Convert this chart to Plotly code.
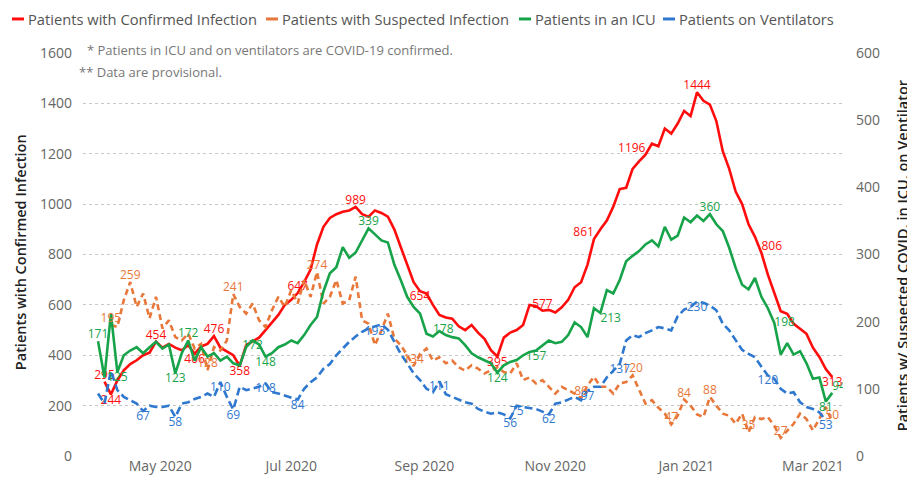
import pandas as pd
import plotly.graph_objects as go

# ---------------- data (sampled every 3 days starting 2020-04-02) ----------------
start_date = "2020-04-02"
n_points = 115
dates = pd.date_range(start_date, periods=n_points, freq="3D")

confirmed = [None, 295, 244, 300, 340, 365, 380, 400, 410, 454,
             430, 445, 430, 420, 440, 406, 435, 445, 476, 430,
             415, 400, 358, 440, 455, 470, 500, 530, 560, 600,
             620, 647, 690, 740, 840, 910, 945, 960, 970, 975,
             989, 960, 950, 975, 965, 950, 900, 830, 760, 690,
             654, 645, 600, 560, 550, 545, 515, 500, 520, 490,
             465, 420, 395, 470, 490, 500, 520, 600, 595, 577,
             580, 570, 590, 620, 670, 690, 760, 861, 900, 935,
             990, 1060, 1065, 1140, 1170, 1196, 1240, 1230, 1300, 1280,
             1320, 1370, 1350, 1444, 1410, 1395, 1330, 1210, 1140, 1050,
             1000, 920, 870, 806, 720, 650, 575, 565, 525, 505,
             485, 430, 393, 345, 313]

suspected = [None, None, 195, 192, 232, 259, 222, 242, 205, 237,
             190, 202, 177, 172, 182, 160, 167, 128, 162, 157,
             172, 241, 222, 212, 227, 202, 192, 217, 237, 222,
             247, 227, 262, 237, 274, 227, 237, 262, 227, 232,
             267, 202, 197, 165, 187, 212, 175, 165, 150, 134,
             152, 160, 142, 147, 138, 142, 132, 127, 135, 130,
             123, 127, 132, 125, 123, 138, 113, 117, 108, 113,
             103, 93, 103, 98, 93, 86, 105, 118, 103, 103,
             93, 108, 110, 120, 100, 78, 83, 72, 63, 47,
             60, 84, 75, 62, 58, 88, 75, 63, 60, 48,
             63, 35, 58, 55, 58, 45, 27, 38, 48, 63,
             55, 38, 55, 73, 50]

icu = [171, 117, 212, 125, 150, 157, 162, 153, 162, 170,
       160, 166, 123, 153, 172, 142, 162, 148, 153, 142,
       148, 138, 135, 162, 172, 166, 148, 153, 162, 166,
       172, 168, 180, 195, 207, 245, 272, 281, 311, 295,
       303, 321, 339, 330, 321, 318, 285, 262, 237, 222,
       212, 182, 178, 186, 180, 177, 175, 165, 153, 147,
       142, 138, 124, 135, 140, 143, 150, 155, 157, 165,
       172, 168, 170, 180, 199, 192, 177, 220, 213, 247,
       242, 262, 290, 298, 305, 315, 321, 312, 341, 322,
       328, 355, 348, 358, 350, 360, 345, 335, 310, 280,
       255, 248, 265, 237, 220, 198, 151, 168, 151, 156,
       138, 115, 117, 81, 94]

ventilators = [93, 78, 127, 98, 88, 83, 78, 67, 75, 73,
               73, 75, 58, 78, 80, 85, 88, 93, 88, 110,
               88, 69, 103, 98, 100, 103, 108, 95, 93, 90,
               88, 84, 100, 110, 117, 130, 137, 150, 160, 170,
               178, 185, 190, 193, 196, 188, 170, 152, 138, 123,
               113, 100, 95, 111, 92, 88, 83, 80, 78, 70,
               66, 63, 65, 62, 56, 75, 73, 72, 70, 66,
               62, 78, 80, 84, 88, 83, 97, 103, 103, 117,
               127, 137, 172, 180, 177, 183, 187, 192, 190, 187,
               208, 218, 222, 230, 228, 224, 217, 197, 187, 172,
               158, 152, 147, 133, 120, 115, 100, 93, 95, 80,
               73, 70, 65, 53, None]

# data labels: indices into the arrays above, and placement relative to the point
confirmed_label_idx = [1, 2, 9, 15, 18, 22, 31, 40, 50, 62, 69, 77, 85, 93, 103, 114]
confirmed_label_pos = ["top center", "bottom center", "top center", "bottom center", "top center",
                       "bottom center", "top center", "top center", "bottom center", "bottom center",
                       "top center", "top left", "top left", "top center", "top right", "bottom center"]
suspected_label_idx = [2, 5, 17, 21, 34, 49, 75, 83, 89, 91, 95, 101, 106, 114]
suspected_label_pos = ["top center"] * 14
icu_label_idx = [0, 3, 12, 14, 24, 26, 42, 52, 62, 68, 78, 95, 105, 113, 114]
icu_label_pos = ["top center", "bottom center", "bottom center", "top center", "bottom center",
                 "bottom center", "top center", "top right", "bottom center", "bottom center",
                 "bottom right", "top center", "middle right", "bottom center", "top right"]
vent_label_idx = [7, 12, 19, 21, 26, 31, 43, 53, 64, 65, 70, 76, 81, 93, 104, 113]
vent_label_pos = ["bottom center"] * 16

series_names = ["Patients with Confirmed Infection", "Patients with Suspected Infection",
                "Patients in an ICU", "Patients on Ventilators"]
left_ticks = [0, 200, 400, 600, 800, 1000, 1200, 1400, 1600]
right_ticks = [0, 100, 200, 300, 400, 500, 600]

# ---------------- styling ----------------
RED, ORANGE, GREEN, BLUE = "#FF0D0D", "#E8773A", "#17A349", "#2F78CF"
FONT = "Open Sans"
GREY = "#666666"

# the page body adds an 8px offset; work in window pixels and convert
OFF = 8
W, H = 915 - OFF, 500 - OFF
# plot area in window pixels
PL, PR, PT, PB = 83, 843, 53, 455.6
def px(x):
    return (x - PL) / (PR - PL)
def py(y):
    return (PB - y) / (PB - PT)

fig = go.Figure()

def line(y, name, color, axis, dash):
    fig.add_trace(go.Scatter(x=dates, y=y, name=name, mode="lines", yaxis=axis,
                             line=dict(color=color, width=2.6, dash=dash),
                             connectgaps=False, showlegend=False))

line(suspected, series_names[1], ORANGE, "y2", "6px,4px")
line(ventilators, series_names[3], BLUE, "y2", "8px,4px")
line(icu, series_names[2], GREEN, "y2", "solid")
line(confirmed, series_names[0], RED, "y", "solid")

def labels(y, idx, pos, color, axis):
    fig.add_trace(go.Scatter(x=[dates[i] for i in idx], y=[y[i] for i in idx],
                             text=[str(y[i]) for i in idx], mode="text", textposition=pos,
                             textfont=dict(color=color, size=12, family=FONT),
                             yaxis=axis, showlegend=False, hoverinfo="skip"))

labels(suspected, suspected_label_idx, suspected_label_pos, ORANGE, "y2")
labels(ventilators, vent_label_idx, vent_label_pos, BLUE, "y2")
labels(icu, icu_label_idx, icu_label_pos, GREEN, "y2")
labels(confirmed, confirmed_label_idx, confirmed_label_pos, RED, "y")

# custom legend (short solid swatches like the original)
legend_x = [12, 266, 519, 663]
LEG_Y = 19
for name, color, lx in zip(series_names, [RED, ORANGE, GREEN, BLUE], legend_x):
    fig.add_shape(type="line", xref="paper", yref="paper",
                  x0=px(lx), x1=px(lx + 12), y0=py(LEG_Y), y1=py(LEG_Y),
                  line=dict(color=color, width=3))
    fig.add_annotation(text=name, xref="paper", yref="paper",
                       x=px(lx + 14), y=py(LEG_Y),
                       xanchor="left", yanchor="middle", showarrow=False,
                       font=dict(size=14.7, color="#555555", family=FONT))

fig.add_annotation(text="* Patients in ICU and on ventilators are COVID-19 confirmed.",
                   xref="paper", yref="paper", x=px(85), y=py(50),
                   xanchor="left", yanchor="middle", showarrow=False, bgcolor="white",
                   font=dict(size=13, color="#777777", family=FONT))
fig.add_annotation(text="** Data are provisional.",
                   xref="paper", yref="paper", x=px(77), y=py(72),
                   xanchor="left", yanchor="middle", showarrow=False, bgcolor="white",
                   font=dict(size=13, color="#777777", family=FONT))

fig.add_annotation(text="Patients with Confirmed Infection", textangle=-90,
                   xref="paper", yref="paper", x=px(20), y=py(252),
                   xanchor="center", yanchor="middle", showarrow=False,
                   font=dict(size=14.5, color="#222222", family=FONT, weight=600))
fig.add_annotation(text="Patients w/ Suspected COVID, in ICU, on Ventilator", textangle=-90,
                   xref="paper", yref="paper", x=px(902), y=py(256),
                   xanchor="center", yanchor="middle", showarrow=False,
                   font=dict(size=14.5, color="#222222", family=FONT, weight=600))

fig.update_layout(
    width=W, height=H,
    margin=dict(l=PL - OFF, r=915 - PR, t=PT - OFF, b=500 - PB, autoexpand=False),
    plot_bgcolor="white", paper_bgcolor="white",
    font=dict(family=FONT, color=GREY, size=14),
    showlegend=False,
    xaxis=dict(type="date", range=["2020-03-26", "2021-03-15"],
               tick0="2020-05-01", dtick="M2", tickformat="%b %Y",
               showgrid=False, zeroline=False, showline=False, ticks="", automargin=False,
               tickfont=dict(size=14, color=GREY)),
    yaxis=dict(range=[0, 1600], tickvals=left_ticks, showgrid=True,
               gridcolor="#C8C8C8", griddash="dot", gridwidth=1, automargin=False,
               zeroline=False, showline=False, ticks="", ticklabelstandoff=10,
               tickfont=dict(size=14, color=GREY)),
    yaxis2=dict(range=[0, 600], tickvals=right_ticks, overlaying="y", side="right",
                showgrid=False, zeroline=False, showline=False, ticks="", ticklabelstandoff=12,
                automargin=False, tickfont=dict(size=14, color=GREY)),
)

fig.write_html("out.html")
